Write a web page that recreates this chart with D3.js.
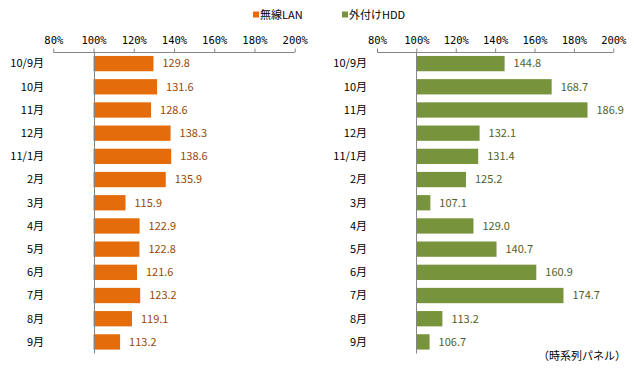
<!DOCTYPE html>
<html><head><meta charset="utf-8">
<script src="https://cdn.jsdelivr.net/npm/d3@7"></script>
<style>body{margin:0;background:#fff}text{font-family:"Noto Sans CJK JP","Noto Sans",sans-serif}</style>
</head><body>
<svg id="c" width="634" height="370"></svg>
<script>
const categories = ["10/9月","10月","11月","12月","11/1月","2月","3月","4月","5月","6月","7月","8月","9月"];
const wirelessLAN = [129.8,131.6,128.6,138.3,138.6,135.9,115.9,122.9,122.8,121.6,123.2,119.1,113.2];
const externalHDD = [144.8,168.7,186.9,132.1,131.4,125.2,107.1,129.0,140.7,160.9,174.7,113.2,106.7];
const tickValues = [80,100,120,140,160,180,200];
const seriesNames = ["無線LAN","外付けHDD"];

const svg = d3.select("#c");
const panels = [
  {name: seriesNames[0], values: wirelessLAN, x0: 53.3, x1: 294.7, labelX: 44, color: "#E46C0A", textColor: "#984807", legendX: 253},
  {name: seriesNames[1], values: externalHDD, x0: 377, x1: 613.3, labelX: 367, color: "#77933C", textColor: "#4F6228", legendX: 342}
];
const y = d3.scaleBand().domain(categories).range([52, 353.5]).paddingInner(0.34).paddingOuter(0.17);

panels.forEach(p => {
  const g = svg.append("g");
  const x = d3.scaleLinear().domain([80, 200]).range([p.x0, p.x1]);
  // axis
  const ax = g.append("g").attr("transform", "translate(0,52.5)")
    .call(d3.axisTop(x).tickValues(tickValues).tickSize(4).tickPadding(5).tickFormat(d => d + "%"));
  ax.select(".domain").attr("stroke", "#868686").attr("d", `M${p.x0},0H${p.x1}`);
  ax.selectAll(".tick line").attr("stroke", "#868686");
  ax.selectAll(".tick text").attr("fill", "#000").style("font-size", "10.5px").style("font-family", "'DejaVu Sans Mono','Liberation Mono',monospace").attr("textLength", null);
  // bars
  g.selectAll("rect.bar").data(p.values).join("rect")
    .attr("x", x(100)).attr("y", (d, i) => y(categories[i]))
    .attr("width", d => x(d) - x(100)).attr("height", y.bandwidth())
    .attr("fill", p.color);
  // baseline at 100%
  g.append("line").attr("x1", Math.round(x(100)) + 0.5).attr("x2", Math.round(x(100)) + 0.5)
    .attr("y1", 52).attr("y2", 353.5).attr("stroke", "#868686").attr("stroke-width", 1);
  // value labels
  g.selectAll("text.val").data(p.values).join("text")
    .attr("x", d => x(d) + 9).attr("y", (d, i) => y(categories[i]) + y.bandwidth() / 2)
    .attr("dy", "0.35em").attr("fill", p.textColor).style("font-size", "11px")
    .text(d => d.toFixed(1));
  // category labels
  g.selectAll("text.cat").data(categories).join("text")
    .attr("x", p.labelX).attr("y", d => y(d) + y.bandwidth() / 2)
    .attr("dy", "0.35em").attr("text-anchor", "end").attr("fill", "#000").style("font-size", "11px")
    .text(d => d);
  // legend
  g.append("rect").attr("x", p.legendX).attr("y", 11.5).attr("width", 6).attr("height", 6).attr("fill", p.color);
  g.append("text").attr("x", p.legendX + 7).attr("y", 15).attr("dy", "0.35em")
    .attr("fill", "#000").style("font-size", "11px").text(p.name);
});
svg.append("text").attr("x", 626).attr("y", 356).attr("dy", "0.35em").attr("text-anchor", "end")
  .attr("fill", "#000").style("font-size", "11px").text("（時系列パネル）");
</script>
</body></html>
